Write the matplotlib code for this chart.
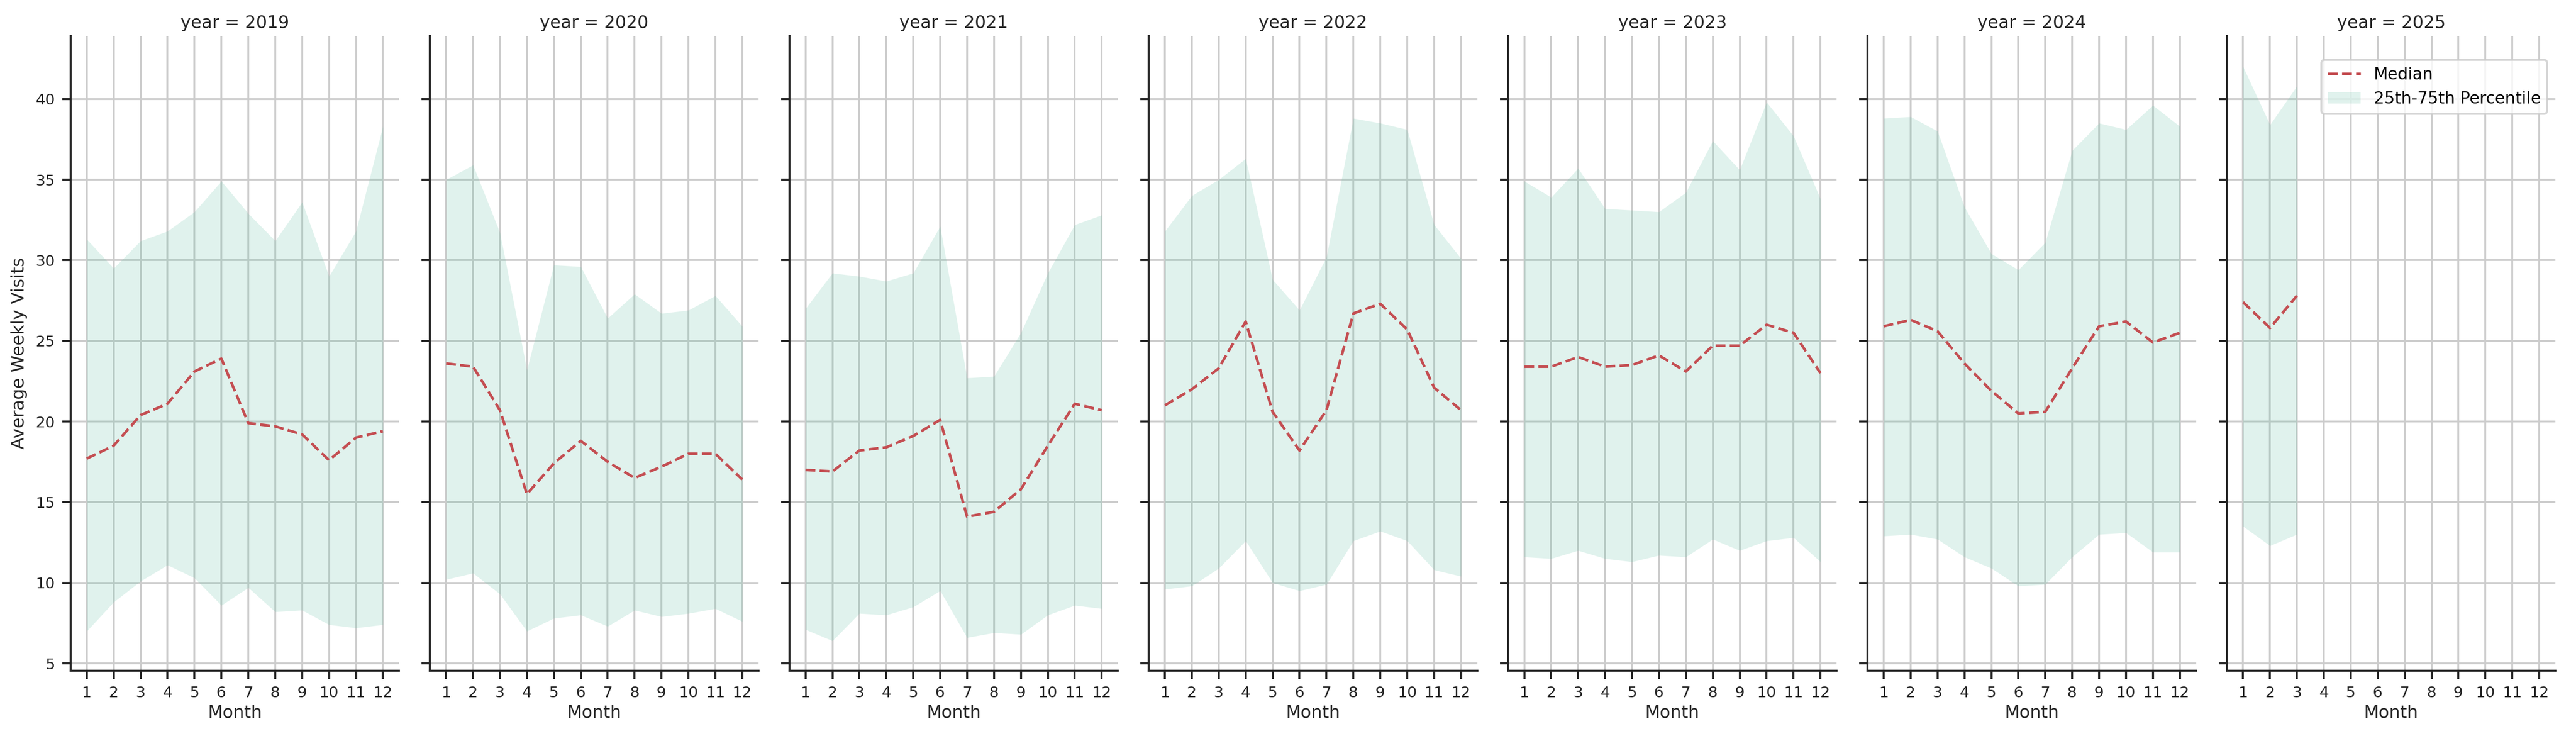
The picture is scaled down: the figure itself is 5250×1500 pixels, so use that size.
import matplotlib
matplotlib.use("Agg")
import matplotlib.pyplot as plt
import numpy as np

months = list(range(1, 13))
years = [2019, 2020, 2021, 2022, 2023, 2024, 2025]

median_2019 = [17.7, 18.5, 20.4, 21.1, 23.1, 23.9, 19.9, 19.7, 19.2, 17.6, 19.0, 19.4]
upper_2019 = [31.3, 29.5, 31.2, 31.8, 33.0, 34.9, 32.9, 31.2, 33.6, 29.0, 31.8, 38.3]
lower_2019 = [7.0, 8.8, 10.1, 11.1, 10.3, 8.6, 9.7, 8.2, 8.3, 7.4, 7.2, 7.4]

median_2020 = [23.6, 23.4, 20.7, 15.5, 17.4, 18.8, 17.5, 16.5, 17.2, 18.0, 18.0, 16.4]
upper_2020 = [35.0, 35.9, 31.7, 23.2, 29.7, 29.6, 26.4, 27.9, 26.7, 26.9, 27.8, 25.9]
lower_2020 = [10.2, 10.6, 9.3, 7.0, 7.8, 8.0, 7.3, 8.3, 7.9, 8.1, 8.4, 7.6]

median_2021 = [17.0, 16.9, 18.2, 18.4, 19.1, 20.1, 14.1, 14.4, 15.8, 18.5, 21.1, 20.7]
upper_2021 = [27.0, 29.2, 29.0, 28.7, 29.2, 32.1, 22.7, 22.8, 25.5, 29.2, 32.2, 32.8]
lower_2021 = [7.1, 6.4, 8.1, 8.0, 8.5, 9.5, 6.6, 6.9, 6.8, 8.0, 8.6, 8.4]

median_2022 = [21.0, 22.0, 23.3, 26.2, 20.6, 18.2, 20.7, 26.7, 27.3, 25.7, 22.1, 20.7]
upper_2022 = [31.8, 34.0, 35.0, 36.3, 28.8, 26.9, 30.2, 38.8, 38.5, 38.1, 32.2, 30.1]
lower_2022 = [9.6, 9.8, 10.9, 12.6, 10.0, 9.5, 9.9, 12.6, 13.2, 12.6, 10.8, 10.4]

median_2023 = [23.4, 23.4, 24.0, 23.4, 23.5, 24.1, 23.1, 24.7, 24.7, 26.0, 25.5, 23.0]
upper_2023 = [34.9, 33.9, 35.7, 33.2, 33.1, 33.0, 34.2, 37.4, 35.6, 39.8, 37.7, 33.8]
lower_2023 = [11.6, 11.5, 12.0, 11.5, 11.3, 11.7, 11.6, 12.7, 12.0, 12.6, 12.8, 11.3]

median_2024 = [25.9, 26.3, 25.6, 23.6, 21.9, 20.5, 20.6, 23.3, 25.9, 26.2, 24.9, 25.5]
upper_2024 = [38.8, 38.9, 38.0, 33.3, 30.4, 29.4, 31.1, 36.8, 38.5, 38.1, 39.6, 38.3]
lower_2024 = [12.9, 13.0, 12.7, 11.6, 10.9, 9.8, 9.9, 11.6, 13.0, 13.1, 11.9, 11.9]

median_2025 = [27.4, 25.8, 27.8]
upper_2025 = [42.0, 38.4, 40.8]
lower_2025 = [13.5, 12.3, 13.0]

medians = [median_2019, median_2020, median_2021, median_2022, median_2023, median_2024, median_2025]
uppers = [upper_2019, upper_2020, upper_2021, upper_2022, upper_2023, upper_2024, upper_2025]
lowers = [lower_2019, lower_2020, lower_2021, lower_2022, lower_2023, lower_2024, lower_2025]

TXT = "#262626"
fig = plt.figure(figsize=(17.5, 5), dpi=300)
left, right, bottom, top = 0.0274, 0.992, 0.089, 0.951
gap = 0.012
w = (right - left - 6 * gap) / 7
axes = []
for i, yr in enumerate(years):
    ax = fig.add_axes([left + i * (w + gap), bottom, w, top - bottom],
                      sharey=axes[0] if axes else None)
    axes.append(ax)
    n = len(medians[i])
    x = months[:n]
    ln, = ax.plot(x, medians[i], color="#c44e52", linestyle="--", linewidth=1.3,
                  label="Median", zorder=3)
    fb = ax.fill_between(x, lowers[i], uppers[i], color="#66c2a5", alpha=0.2,
                         linewidth=0, label="25th-75th Percentile", zorder=2)
    ax.set_xlim(0.4, 12.6)
    ax.set_xticks(months)
    ax.set_yticks([5, 10, 15, 20, 25, 30, 35, 40])
    ax.grid(True, color="#cccccc", linewidth=0.9, zorder=0)
    ax.set_axisbelow(True)
    for s in ("top", "right"):
        ax.spines[s].set_visible(False)
    for s in ("left", "bottom"):
        ax.spines[s].set_color(TXT)
        ax.spines[s].set_linewidth(1.0)
    ax.tick_params(colors=TXT, labelsize=7.5, length=4, width=1.0)
    ax.set_xlabel("Month", fontsize=8.5, color=TXT, labelpad=2)
    ax.set_title(f"year = {yr}", fontsize=8.5, color=TXT, pad=4)
    if i > 0:
        ax.tick_params(labelleft=False)
    else:
        ax.set_ylabel("Average Weekly Visits", fontsize=8.5, color=TXT)
axes[0].set_ylim(4.56, 43.9)
axes[-1].legend(handles=[ln, fb], loc="upper right", bbox_to_anchor=(1.0, 0.975),
                fontsize=8, frameon=True, framealpha=0.8, edgecolor="#cccccc")
fig.savefig("out.png", dpi=300)
